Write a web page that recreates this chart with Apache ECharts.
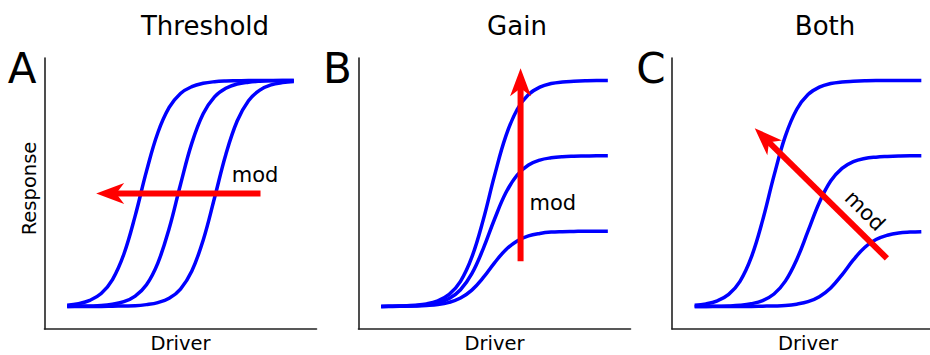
<!DOCTYPE html>
<html>
<head>
<meta charset="utf-8">
<script src="https://cdn.jsdelivr.net/npm/echarts@6/dist/echarts.min.js"></script>
<style>
html,body{margin:0;padding:0;background:#fff;}
#chart{width:930px;height:355px;}
</style>
</head>
<body>
<div id="chart"></div>
<script>
// Driver values at which the curves were read
const driver = [1, 1.5, 2, 2.5, 3, 3.5, 4, 4.5, 5, 5.5, 6, 6.5, 7, 7.5, 8, 8.5, 9, 9.5, 10, 10.5, 11];

// Panel A: Threshold (left, middle, right curves)
const thresholdLeft  = [1.05, 1.12, 1.27, 1.57, 2.19, 3.31, 5.01, 6.99, 8.69, 9.81, 10.43, 10.73, 10.88, 10.95, 10.98, 10.99, 11.0, 11.0, 11.0, 11.0, 11.0];
const thresholdMid   = [1.00, 1.01, 1.02, 1.04, 1.10, 1.21, 1.46, 1.96, 2.92, 4.45, 6.40, 8.23, 9.53, 10.28, 10.66, 10.85, 10.93, 10.97, 10.99, 11.0, 11.0];
const thresholdRight = [1.00, 1.00, 1.00, 1.00, 1.01, 1.02, 1.03, 1.08, 1.17, 1.36, 1.77, 2.57, 3.93, 5.80, 7.73, 9.21, 10.11, 10.58, 10.81, 10.91, 10.96];

// Panel B: Gain (high, middle, low curves)
const gainHigh = [1.00, 1.01, 1.02, 1.05, 1.11, 1.25, 1.53, 2.11, 3.18, 4.82, 6.79, 8.54, 9.72, 10.38, 10.71, 10.87, 10.94, 10.97, 10.99, 11.0, 11.0];
const gainMid  = [1.00, 1.01, 1.02, 1.03, 1.07, 1.16, 1.35, 1.74, 2.45, 3.55, 4.86, 6.03, 6.82, 7.26, 7.48, 7.58, 7.63, 7.65, 7.66, 7.67, 7.67];
const gainLow  = [1.00, 1.00, 1.01, 1.02, 1.04, 1.08, 1.18, 1.37, 1.72, 2.27, 2.93, 3.51, 3.90, 4.12, 4.23, 4.29, 4.31, 4.32, 4.33, 4.33, 4.33];

// Panel C: Both (left/high, middle, right/low curves)
const bothLeft  = [1.05, 1.11, 1.25, 1.53, 2.11, 3.18, 4.82, 6.79, 8.54, 9.72, 10.38, 10.71, 10.87, 10.94, 10.97, 10.99, 11.0, 11.0, 11.0, 11.0, 11.0];
const bothMid   = [1.00, 1.00, 1.01, 1.02, 1.05, 1.12, 1.26, 1.55, 2.12, 3.07, 4.33, 5.60, 6.55, 7.11, 7.41, 7.55, 7.61, 7.64, 7.66, 7.67, 7.67];
const bothRight = [1.00, 1.00, 1.00, 1.00, 1.00, 1.00, 1.01, 1.02, 1.04, 1.10, 1.21, 1.43, 1.82, 2.40, 3.06, 3.61, 3.96, 4.15, 4.25, 4.29, 4.31];

// Modulation arrows: [tailX, tailY, tipX, tipY]
const arrowThreshold = [9.53, 6.0, 2.28, 6.0];
const arrowGain      = [7.15, 3.0, 7.15, 11.55];
const arrowBoth      = [9.48, 3.13, 3.65, 8.89];

const titles = ['Threshold', 'Gain', 'Both'];
const letters = ['A', 'B', 'C'];

const FONT = '"DejaVu Sans", Verdana, sans-serif';
const BLUE = '#0000ff';
const RED = '#ff0000';

const chart = echarts.init(document.getElementById('chart'), null, {renderer: 'svg'});

const gridLefts = [44.5, 358.5, 672];
const grids = gridLefts.map(l => ({left: l, top: 58, width: 272, height: 271,
  containLabel: false, outerBoundsMode: 'none'}));

function axisBase() {
  return {
    type: 'value', min: 0, max: 12,
    axisLine: {show: true, onZero: false, lineStyle: {color: '#222', width: 1.6}},
    axisTick: {show: false}, axisLabel: {show: false}, splitLine: {show: false}
  };
}
const xAxes = [0, 1, 2].map(i => Object.assign(axisBase(), {
  gridIndex: i, name: 'Driver', nameLocation: 'middle', nameGap: 5,
  nameTextStyle: {fontFamily: FONT, fontSize: 19.5, color: '#000', lineHeight: 19}
}));
const yAxes = [0, 1, 2].map(i => Object.assign(axisBase(), {
  gridIndex: i,
  name: i === 0 ? 'Response' : '', nameLocation: 'middle', nameGap: 5,
  nameTextStyle: {fontFamily: FONT, fontSize: 19.5, color: '#000', padding: [0, 0, 0, 10]}
}));

function curve(values, idx) {
  return {
    type: 'line', xAxisIndex: idx, yAxisIndex: idx,
    data: driver.map((x, i) => [x, values[i]]),
    smooth: 0.4, showSymbol: false, symbol: 'none',
    lineStyle: {color: BLUE, width: 3.5}, silent: true, z: 2
  };
}

function arrowSeries(a, idx) {
  return {
    type: 'custom', xAxisIndex: idx, yAxisIndex: idx, clip: false, silent: true, z: 3,
    data: [a],
    renderItem: function (params, api) {
      const p0 = api.coord([api.value(0), api.value(1)]);
      const p1 = api.coord([api.value(2), api.value(3)]);
      const dx = p1[0] - p0[0], dy = p1[1] - p0[1];
      const len = Math.hypot(dx, dy);
      const ux = dx / len, uy = dy / len, nx = -uy, ny = ux;
      const L = 28, W = 10.5, N = 20;
      const bx = p1[0] - ux * L, by = p1[1] - uy * L;
      const kx = p1[0] - ux * N, ky = p1[1] - uy * N;
      return {
        type: 'group',
        children: [
          {type: 'line', shape: {x1: p0[0], y1: p0[1], x2: kx + ux, y2: ky + uy},
           style: {stroke: RED, lineWidth: 6, lineCap: 'butt'}},
          {type: 'polygon', shape: {points: [[p1[0], p1[1]], [bx + nx * W, by + ny * W], [kx, ky], [bx - nx * W, by - ny * W]]},
           style: {fill: RED}}
        ]
      };
    }
  };
}

function modLabel(pos, idx, rot) {
  return {
    type: 'scatter', xAxisIndex: idx, yAxisIndex: idx, symbolSize: 0, silent: true, z: 4,
    itemStyle: {opacity: 1},
    data: [pos],
    label: {show: true, position: 'inside', formatter: 'mod', rotate: rot || 0,
            fontFamily: FONT, fontSize: 21, color: '#000', opacity: 1}
  };
}

const series = [
  curve(thresholdLeft, 0), curve(thresholdMid, 0), curve(thresholdRight, 0),
  curve(gainHigh, 1), curve(gainMid, 1), curve(gainLow, 1),
  curve(bothLeft, 2), curve(bothMid, 2), curve(bothRight, 2),
  arrowSeries(arrowThreshold, 0), arrowSeries(arrowGain, 1), arrowSeries(arrowBoth, 2),
  modLabel([9.29, 6.82], 0), modLabel([8.57, 5.59], 1), modLabel([8.51, 5.23], 2, -45)
];

const titleX = [205, 517, 825];
const letterX = [22, 337.5, 651];
const graphic = [];
titles.forEach((t, i) => graphic.push({
  type: 'text', x: titleX[i], y: 26,
  style: {text: t, fill: '#000', font: '26px ' + FONT, align: 'center', verticalAlign: 'middle'}
}));
letters.forEach((t, i) => graphic.push({
  type: 'text', x: letterX[i], y: 68,
  style: {text: t, fill: '#000', font: '42px ' + FONT, align: 'center', verticalAlign: 'middle'}
}));

chart.setOption({
  backgroundColor: '#fff',
  animation: false,
  grid: grids,
  xAxis: xAxes,
  yAxis: yAxes,
  series: series,
  graphic: graphic
});
</script>
</body>
</html>
